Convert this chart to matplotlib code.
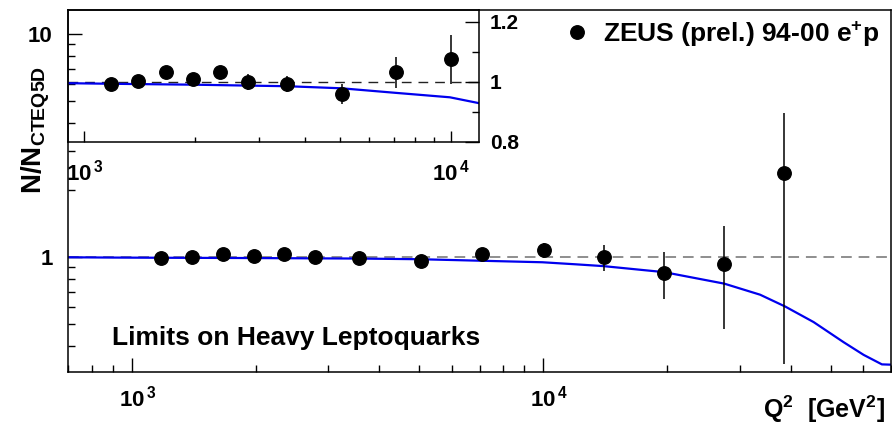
import matplotlib
matplotlib.use("Agg")
import matplotlib.pyplot as plt
from matplotlib.ticker import FixedLocator, FixedFormatter, NullFormatter, LogLocator
from matplotlib.lines import Line2D
from matplotlib.transforms import ScaledTranslation

plt.rcParams['font.family'] = ['Liberation Sans', 'DejaVu Sans']
plt.rcParams['font.weight'] = 'bold'
plt.rcParams['mathtext.fontset'] = 'custom'
plt.rcParams['mathtext.rm'] = 'Liberation Sans:bold'
plt.rcParams['mathtext.it'] = 'Liberation Sans:bold'
plt.rcParams['mathtext.bf'] = 'Liberation Sans:bold'
plt.rcParams['mathtext.sf'] = 'Liberation Sans:bold'
plt.rcParams['mathtext.default'] = 'rm'

# ---- data ----
q2 = [1180, 1400, 1670, 1980, 2340, 2790, 3570, 5040, 7100, 10040,
      14030, 19640, 27550, 38570]
ratio = [0.992, 1.003, 1.031, 1.008, 1.033, 1.000, 0.993, 0.958, 1.031, 1.075,
         1.000, 0.850, 0.927, 2.38]
err = [0.012, 0.014, 0.016, 0.018, 0.021, 0.026, 0.027, 0.033, 0.052, 0.082,
       0.13, 0.20, 0.45, 2.05]

curve_q2 = [700, 900, 1200, 2000, 2800, 3570, 5040, 7050, 9950, 12000,
            14000, 19670, 27540, 33650, 38720, 45390, 53700, 60070, 66530, 70000]
curve_ratio = [0.998, 0.995, 0.993, 0.990, 0.987, 0.985, 0.978, 0.963, 0.948, 0.928,
               0.911, 0.856, 0.760, 0.678, 0.600, 0.511, 0.415, 0.364, 0.330, 0.329]

main_xticks = [1e3, 1e4]
main_xlabels = [r'$10^{\,3}$', r'$10^{\,4}$']
main_yticks = [1, 10]
main_ylabels = ['1', '10']
inset_yticks = [0.8, 1.0, 1.2]
inset_ylabels = ['0.8', '1', '1.2']
inset_yminor = [0.9, 1.1]

legend_label = r'ZEUS (prel.) 94-00 e$^{+}$p'
title_text = 'Limits on Heavy Leptoquarks'
xlabel_text = r'Q$^{2}$  [GeV$^{2}$]'
ylabel_text = r'N/N$_{\mathrm{CTEQ5D}}$'

W, H = 892, 425
fig = plt.figure(figsize=(W / 100, H / 100), dpi=100)

# ---- main axes ----
ax = fig.add_axes([68 / W, 1 - 372 / H, 823 / W, 362 / H])
ax.set_xscale('log')
ax.set_yscale('log')
ax.set_xlim(700, 70000)
ax.set_ylim(0.305, 12.85)
for s in ax.spines.values():
    s.set_linewidth(1.1)

ax.xaxis.set_major_locator(FixedLocator(main_xticks))
ax.xaxis.set_major_formatter(FixedFormatter(main_xlabels))
ax.xaxis.set_minor_locator(LogLocator(base=10, subs=range(2, 10), numticks=20))
ax.xaxis.set_minor_formatter(NullFormatter())
ax.yaxis.set_major_locator(FixedLocator(main_yticks))
ax.yaxis.set_major_formatter(FixedFormatter(main_ylabels))
ax.yaxis.set_minor_locator(LogLocator(base=10, subs=range(2, 10), numticks=20))
ax.yaxis.set_minor_formatter(NullFormatter())
ax.tick_params(which='both', direction='in', top=False, right=False, width=1.0,
               labelsize=16)
ax.tick_params(which='major', length=10)
ax.tick_params(which='minor', length=5)
ax.tick_params(axis='x', which='major', pad=10)
ax.tick_params(axis='y', which='major', pad=11)
shift = ScaledTranslation(6 / 100, 0, fig.dpi_scale_trans)
for lab in ax.get_xticklabels():
    lab.set_transform(lab.get_transform() + shift)

ax.axhline(1.0, color='#707070', lw=1.1, ls=(0, (7, 4.5)), zorder=1)
ax.plot(curve_q2, curve_ratio, color='#0000ee', lw=1.6, zorder=2)
ax.errorbar(q2, ratio, yerr=err, fmt='o', color='black', ms=9.7,
            elinewidth=1.1, capsize=0, zorder=3)

fig.text(112 / W, 1 - 345 / H, title_text, fontsize=19, fontweight='bold',
         ha='left', va='baseline')
fig.text(885 / W, 1 - 418.3 / H, xlabel_text, fontsize=18, fontweight='bold',
         ha='right', va='baseline')
fig.text(42 / W, 1 - 130 / H, ylabel_text, fontsize=20, fontweight='bold',
         rotation=90, rotation_mode='anchor', ha='center', va='baseline')

leg = ax.legend([Line2D([], [], marker='o', ls='none', color='black', ms=9.7)],
                [legend_label], loc='center left',
                bbox_to_anchor=(563.5 / W, 1 - 34 / H), bbox_transform=fig.transFigure,
                frameon=False, fontsize=19, handlelength=1.0, handletextpad=0.5,
                borderpad=0, borderaxespad=0)

# ---- inset axes ----
ax2 = fig.add_axes([68.3 / W, 1 - 141.7 / H, 411 / W, 131.7 / H])
ax2.patch.set_alpha(0.0)
ax2.set_xscale('log')
ax2.set_xlim(904, 11970)
ax2.set_ylim(0.8, 1.239)
for s in ax2.spines.values():
    s.set_linewidth(1.1)
ax2.xaxis.set_major_locator(FixedLocator(main_xticks))
ax2.xaxis.set_major_formatter(FixedFormatter(main_xlabels))
ax2.xaxis.set_minor_locator(LogLocator(base=10, subs=range(2, 10), numticks=20))
ax2.xaxis.set_minor_formatter(NullFormatter())
ax2.yaxis.set_major_locator(FixedLocator(inset_yticks))
ax2.yaxis.set_major_formatter(FixedFormatter(inset_ylabels))
ax2.yaxis.set_minor_locator(FixedLocator(inset_yminor))
ax2.yaxis.tick_right()
ax2.tick_params(which='both', direction='in', top=False, left=False, right=True,
                labelleft=False, labelright=True, width=1.0, labelsize=15)
ax2.tick_params(axis='x', which='major', length=8, pad=13, labelsize=16)
ax2.tick_params(axis='x', which='minor', length=3.6)
ax2.tick_params(axis='y', which='major', length=10, pad=7.5)
ax2.tick_params(axis='y', which='minor', length=5)

ax2.axhline(1.0, color='#222222', lw=1.0, ls=(0, (7, 5)), zorder=1)
ax2.plot(curve_q2, curve_ratio, color='#0000ee', lw=1.6, zorder=2)
ax2.errorbar(q2, ratio, yerr=err, fmt='o', color='black', ms=9.7,
             elinewidth=1.1, capsize=0, zorder=3)

fig.savefig('out.png', dpi=100)
